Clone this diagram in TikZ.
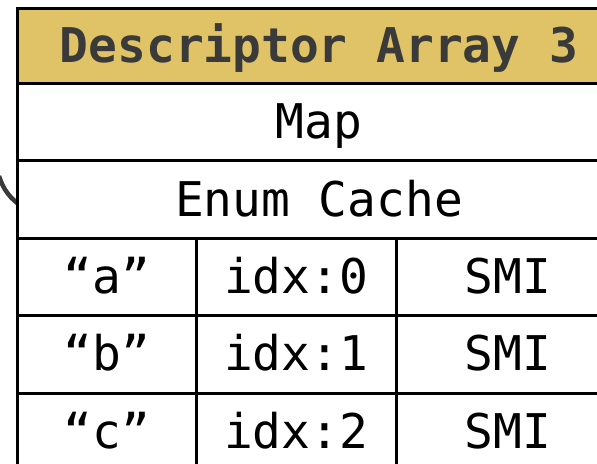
\documentclass[tikz,border=0pt]{standalone}
\usepackage{fontspec}
\setmonofont{DejaVu Sans Mono}
\definecolor{hdr}{RGB}{224,195,102}
\definecolor{hdrtext}{RGB}{58,58,58}
\begin{document}
\begin{tikzpicture}[x=1bp,y=-1bp,
  cell/.style={draw=black, line width=3bp, fill=white, inner sep=0pt,
    text height=38.5bp, text depth=5.5bp,
    font=\ttfamily\fontsize{48}{48}\selectfont},
  hdrcell/.style={cell, fill=hdr, text=hdrtext, font=\ttfamily\bfseries\fontsize{48}{48}\selectfont},
  wide/.style={minimum width=602bp},
  cola/.style={minimum width=178bp},
  colb/.style={minimum width=200bp},
  colc/.style={minimum width=224bp},
  rowh/.style={minimum height=#1bp},
  link/.style={draw=hdrtext, line width=4.5bp}
]
\useasboundingbox (0,0) rectangle (597,464);
% incoming connector (mostly hidden behind the table)
\coordinate (cs) at (-1,176);
\coordinate (ce) at (24,208);
\draw[link] (cs) .. controls (3,189) and (10,199) .. (ce);
% table
\node[hdrcell, wide, rowh=75] (hdr) at (319,46) {Descriptor Array 3};
\node[cell, wide, rowh=77.5] (map) at (319,122.25) {Map};
\node[cell, wide, rowh=77.5] (enum) at (319,199.75) {Enum Cache};
\node[cell, cola, rowh=77] (ka) at (107,277) {“a”};
\node[cell, colb, rowh=77] (ia) at (296,277) {idx:0};
\node[cell, colc, rowh=77] (sa) at (508,277) {SMI};
\node[cell, cola, rowh=77.5] (kb) at (107,354.25) {“b”};
\node[cell, colb, rowh=77.5] (ib) at (296,354.25) {idx:1};
\node[cell, colc, rowh=77.5] (sb) at (508,354.25) {SMI};
\node[cell, cola, rowh=77] (kc) at (107,431.5) {“c”};
\node[cell, colb, rowh=77] (ic) at (296,431.5) {idx:2};
\node[cell, colc, rowh=77] (sc) at (508,431.5) {SMI};
\end{tikzpicture}
\end{document}
